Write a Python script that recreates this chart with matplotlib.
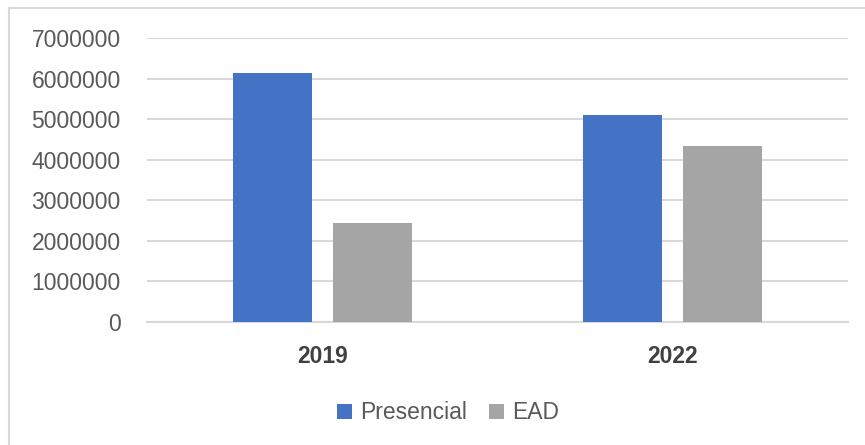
import numpy as np
import matplotlib.pyplot as plt
from matplotlib.lines import Line2D

# Matrículas por modalidade
anos = ["2019", "2022"]
presencial = [6150000, 5100000]
ead = [2440000, 4350000]
ticks_y = [0, 1000000, 2000000, 3000000, 4000000, 5000000, 6000000, 7000000]

AZUL = "#4472C4"
CINZA = "#A5A5A5"
GRADE = "#D9D9D9"
TEXTO = "#595959"

plt.rcParams["font.family"] = ["Liberation Sans", "DejaVu Sans"]

fig = plt.figure(figsize=(8.65, 4.45), dpi=100)
ax = fig.add_axes([0.170, 0.277, 0.810, 0.637])

x = np.arange(len(anos))
larg = 0.225
sep = 0.06
ax.bar(x - (larg + sep) / 2, presencial, width=larg, color=AZUL, label="Presencial", zorder=3)
ax.bar(x + (larg + sep) / 2, ead, width=larg, color=CINZA, label="EAD", zorder=3)

ax.set_xlim(-0.5, 1.5)
ax.set_ylim(0, 7000000)
ax.set_yticks(ticks_y)
ax.set_yticklabels([str(v) for v in ticks_y], fontsize=16.5, color=TEXTO)
ax.set_xticks(x)
ax.set_xticklabels(anos, fontsize=16.5, fontweight="bold", color="#404040")
ax.tick_params(axis="y", length=0, pad=19)
ax.tick_params(axis="x", length=0, pad=17)

ax.grid(axis="y", color=GRADE, linewidth=1.5, zorder=0)
for s in ["top", "right", "left"]:
    ax.spines[s].set_visible(False)
ax.spines["bottom"].set_color(GRADE)
ax.spines["bottom"].set_linewidth(1.5)

fig.legend(loc="center", bbox_to_anchor=(0.518, 0.072), ncol=2, frameon=False,
           fontsize=16.5, handlelength=0.65, handleheight=0.65, handletextpad=0.35,
           columnspacing=1.0, labelcolor=TEXTO)

# moldura do gráfico (bordas esquerda e superior)
fig.add_artist(Line2D([8.5 / 865, 8.5 / 865], [0, 1 - 7.5 / 445], color=GRADE, linewidth=1.5))
fig.add_artist(Line2D([8.5 / 865, 1], [1 - 7.5 / 445, 1 - 7.5 / 445], color=GRADE, linewidth=1.5))

fig.savefig("out.png", dpi=100)
